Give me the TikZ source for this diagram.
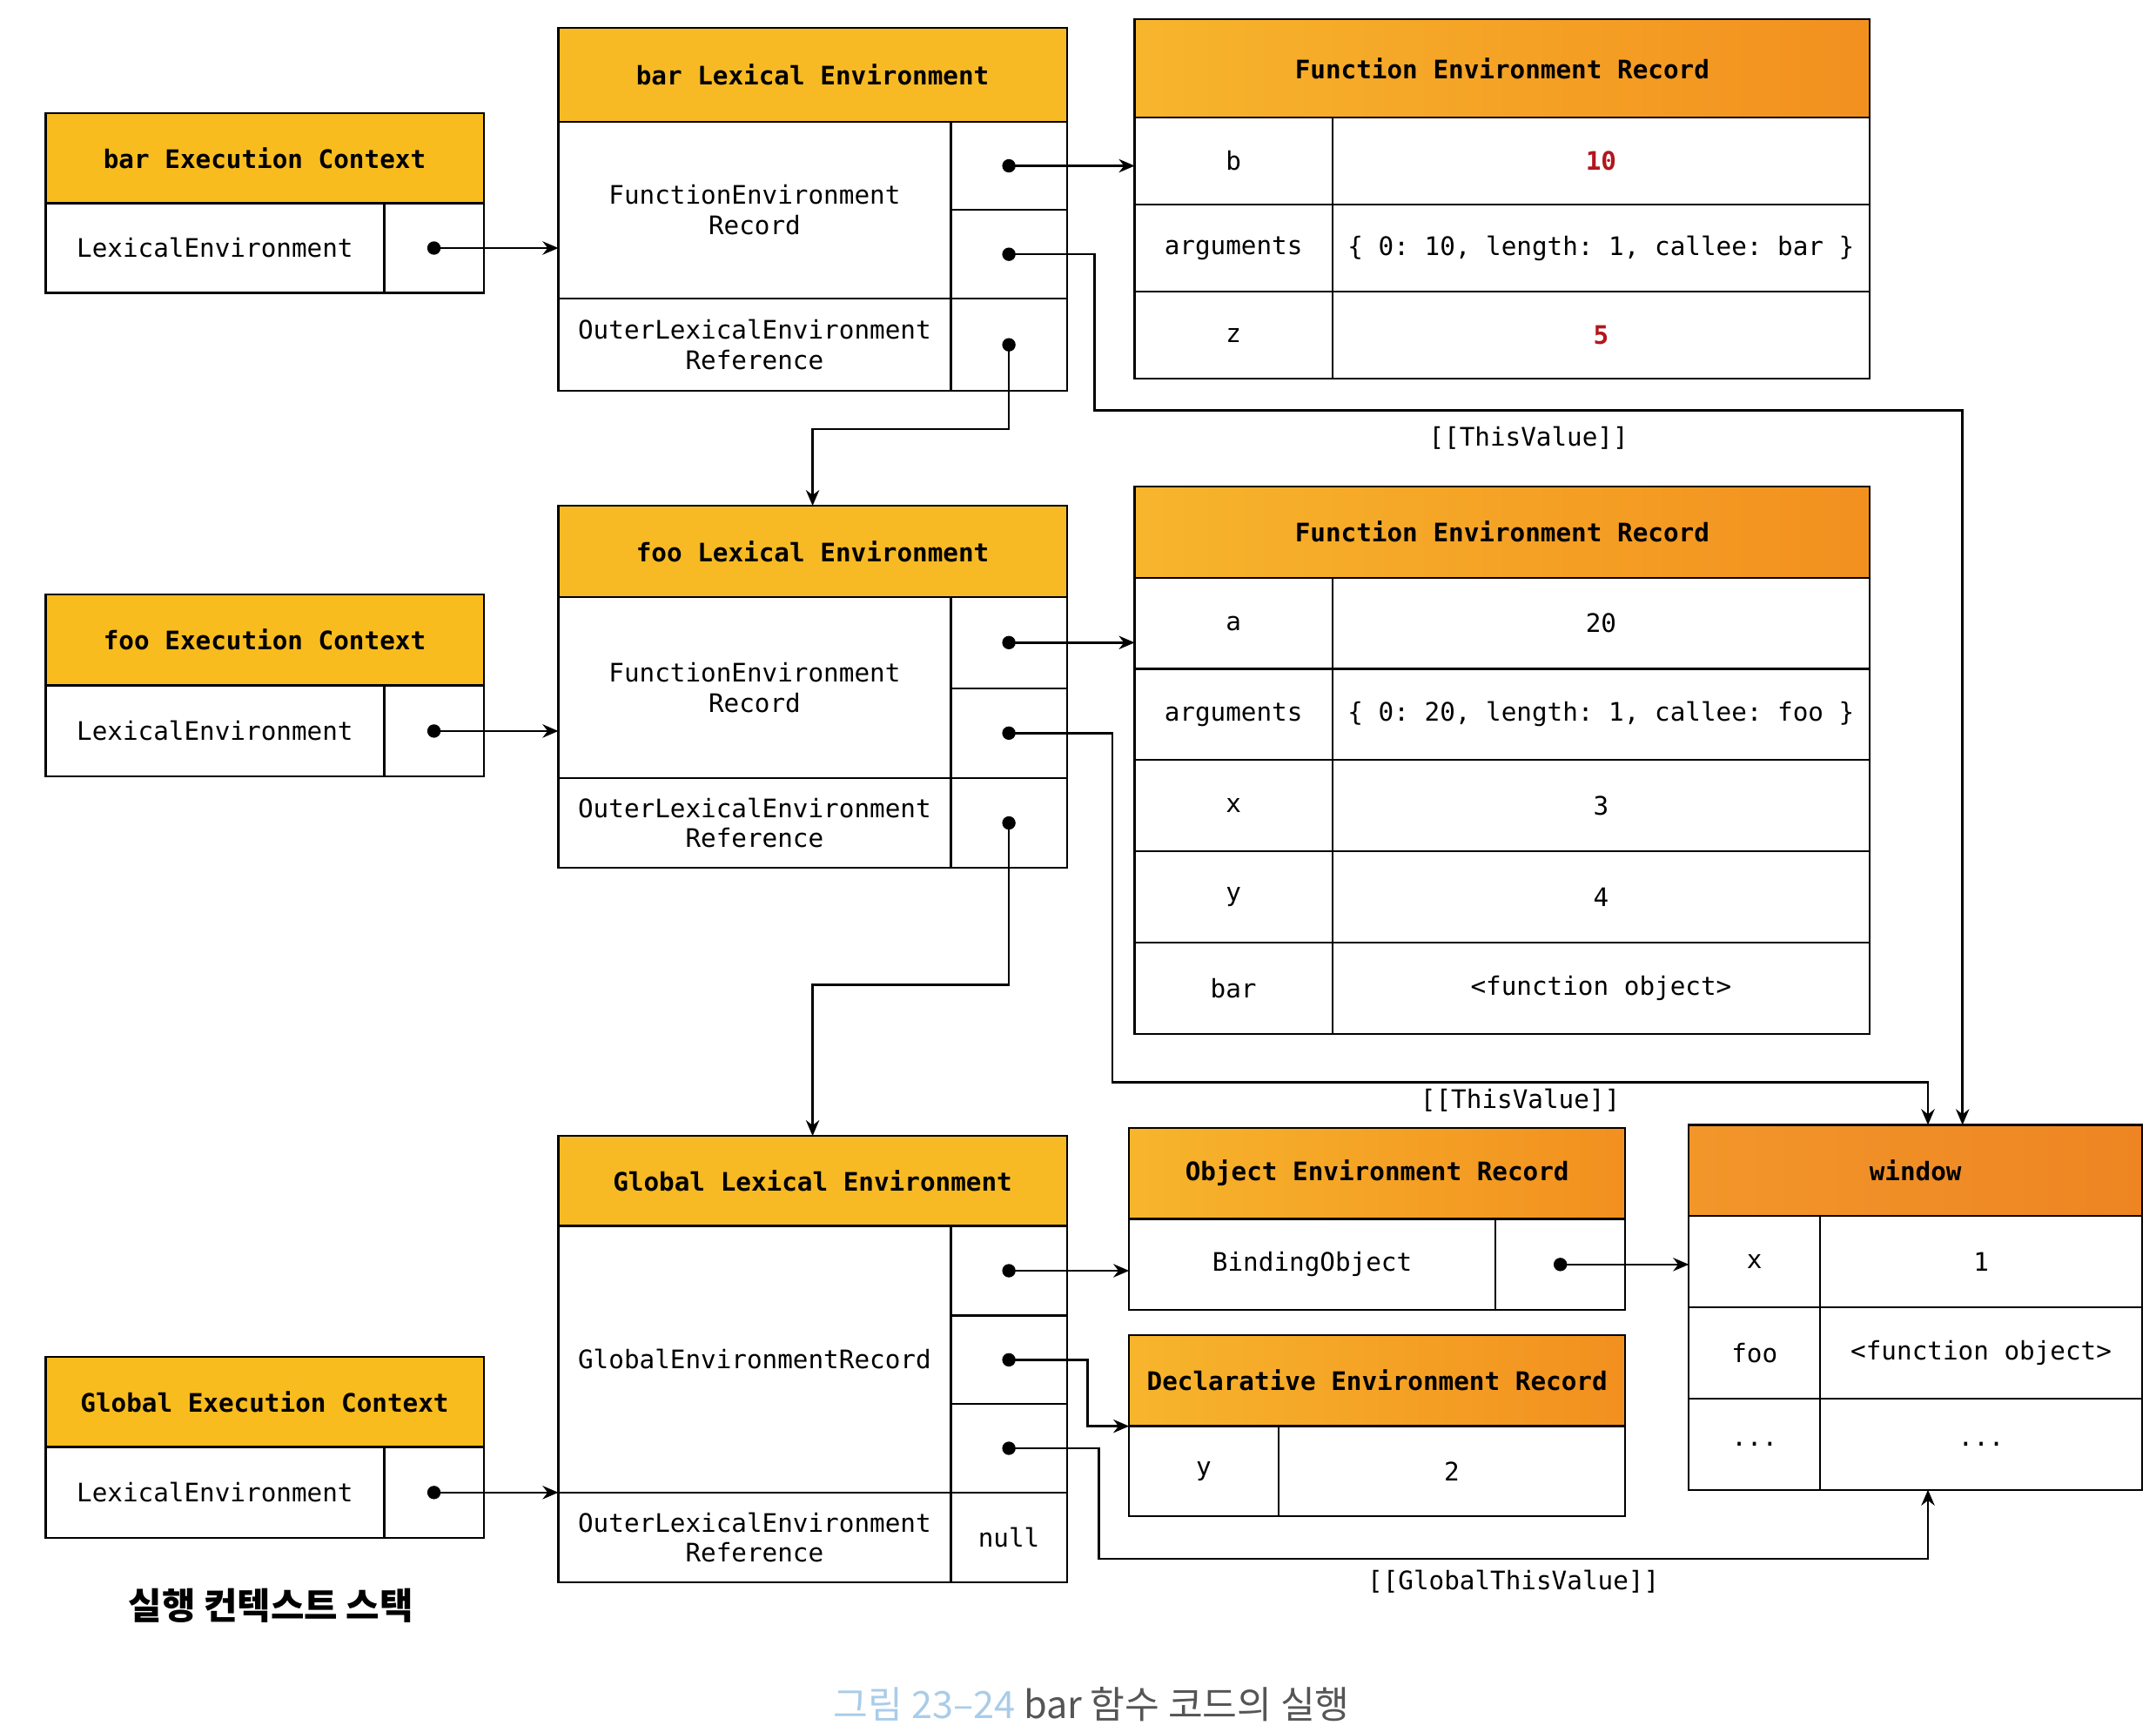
\documentclass[tikz,border=0pt]{standalone}
\usepackage{fontspec}
\setmonofont{DejaVu Sans Mono}
\newfontfamily\krfont{Noto Sans CJK KR}
\usetikzlibrary{arrows.meta,positioning}
\definecolor{ecyellow}{HTML}{F8BC1F}
\definecolor{leyellow}{HTML}{F7BA24}
\definecolor{recleft}{HTML}{F7B52C}
\definecolor{recright}{HTML}{F2901F}
\definecolor{winleft}{HTML}{F2962A}
\definecolor{winright}{HTML}{EE8522}
\definecolor{valred}{HTML}{B3161E}
\definecolor{capblue}{HTML}{A9CCE8}
\definecolor{capgray}{HTML}{555555}

\begin{document}
\begin{tikzpicture}[x=0.02cm,y=-0.02cm,line width=0.8pt,>={Stealth[length=6.5pt,width=5.5pt]}]
    \tikzstyle{cell}=[draw,anchor=north west,inner sep=0pt,outer sep=0pt,align=center,font=\ttfamily\fontsize{10.5}{12.5}\selectfont]
    \tikzstyle{head}=[cell,font=\ttfamily\bfseries\fontsize{10.5}{12.5}\selectfont]
    \tikzstyle{ptr}=[{Circle[length=5.5pt]}->,shorten <=-2.75pt,line width=0.9pt]
    \tikzstyle{lbl}=[font=\ttfamily\fontsize{10.5}{12.5}\selectfont]

    \path[use as bounding box,fill=white] (0,0) rectangle (1560,1253);

    % execution context stack
    \node[head,fill=ecyellow,minimum width=6.34cm,minimum height=1.3cm]  (barECh) at (33,82)   {bar Execution Context};
    \node[cell,minimum width=4.9cm,minimum height=1.3cm]                 (barECn) at (33,147)  {LexicalEnvironment};
    \node[cell,minimum width=1.44cm,minimum height=1.3cm]                (barECp) at (278,147) {};

    \node[head,fill=ecyellow,minimum width=6.34cm,minimum height=1.32cm] (fooECh) at (33,430)  {foo Execution Context};
    \node[cell,minimum width=4.9cm,minimum height=1.32cm]                (fooECn) at (33,496)  {LexicalEnvironment};
    \node[cell,minimum width=1.44cm,minimum height=1.32cm]               (fooECp) at (278,496) {};

    \node[head,fill=ecyellow,minimum width=6.34cm,minimum height=1.3cm]  (GECh) at (33,982)    {Global Execution Context};
    \node[cell,minimum width=4.9cm,minimum height=1.32cm]                (GECn) at (33,1047)   {LexicalEnvironment};
    \node[cell,minimum width=1.44cm,minimum height=1.32cm]               (GECp) at (278,1047)  {};

    \node[font=\krfont\bfseries\fontsize{15}{17}\selectfont] (stack) at (196,1162) {실행 컨텍스트 스택};

    % lexical environments
    \node[head,fill=leyellow,minimum width=7.36cm,minimum height=1.36cm] (barLEh) at (404,20)   {bar Lexical Environment};
    \node[cell,minimum width=5.68cm,minimum height=2.56cm]               (barLEf) at (404,88)   {FunctionEnvironment\\Record};
    \node[cell,minimum width=1.68cm,minimum height=1.28cm]               (barLEp1) at (688,88)  {};
    \node[cell,minimum width=1.68cm,minimum height=1.28cm]               (barLEp2) at (688,152) {};
    \node[cell,minimum width=5.68cm,minimum height=1.34cm]               (barLEo) at (404,216)  {OuterLexicalEnvironment\\Reference};
    \node[cell,minimum width=1.68cm,minimum height=1.34cm]               (barLEq) at (688,216)  {};

    \node[head,fill=leyellow,minimum width=7.36cm,minimum height=1.32cm] (fooLEh) at (404,366)  {foo Lexical Environment};
    \node[cell,minimum width=5.68cm,minimum height=2.62cm]               (fooLEf) at (404,432)  {FunctionEnvironment\\Record};
    \node[cell,minimum width=1.68cm,minimum height=1.32cm]               (fooLEp1) at (688,432) {};
    \node[cell,minimum width=1.68cm,minimum height=1.3cm]                (fooLEp2) at (688,498) {};
    \node[cell,minimum width=5.68cm,minimum height=1.3cm]                (fooLEo) at (404,563)  {OuterLexicalEnvironment\\Reference};
    \node[cell,minimum width=1.68cm,minimum height=1.3cm]                (fooLEq) at (688,563)  {};

    \node[head,fill=leyellow,minimum width=7.36cm,minimum height=1.3cm]  (GLEh) at (404,822)    {Global Lexical Environment};
    \node[cell,minimum width=5.68cm,minimum height=3.86cm]               (GLEg) at (404,887)    {GlobalEnvironmentRecord};
    \node[cell,minimum width=1.68cm,minimum height=1.3cm]                (GLEp1) at (688,887)   {};
    \node[cell,minimum width=1.68cm,minimum height=1.28cm]               (GLEp2) at (688,952)   {};
    \node[cell,minimum width=1.68cm,minimum height=1.28cm]               (GLEp3) at (688,1016)  {};
    \node[cell,minimum width=5.68cm,minimum height=1.3cm]                (GLEo) at (404,1080)   {OuterLexicalEnvironment\\Reference};
    \node[cell,minimum width=1.68cm,minimum height=1.3cm]                (GLEq) at (688,1080)   {null};

    % bar function environment record
    \node[head,left color=recleft,right color=recright,minimum width=10.64cm,minimum height=1.42cm] (barFh) at (821,14) {Function Environment Record};
    \node[cell,minimum width=2.86cm,minimum height=1.26cm] (barFb)  at (821,85)  {b};
    \node[cell,minimum width=7.78cm,minimum height=1.26cm] (barFbv) at (964,85)  {\textbf{\color{valred}10}};
    \node[cell,minimum width=2.86cm,minimum height=1.26cm] (barFa)  at (821,148) {arguments};
    \node[cell,minimum width=7.78cm,minimum height=1.26cm] (barFav) at (964,148) {\{ 0: 10, length: 1, callee: bar \}};
    \node[cell,minimum width=2.86cm,minimum height=1.26cm] (barFz)  at (821,211) {z};
    \node[cell,minimum width=7.78cm,minimum height=1.26cm] (barFzv) at (964,211) {\textbf{\color{valred}5}};

    % foo function environment record
    \node[head,left color=recleft,right color=recright,minimum width=10.64cm,minimum height=1.32cm] (fooFh) at (821,352) {Function Environment Record};
    \node[cell,minimum width=2.86cm,minimum height=1.32cm] (fooFa)  at (821,418) {a};
    \node[cell,minimum width=7.78cm,minimum height=1.32cm] (fooFav) at (964,418) {20};
    \node[cell,minimum width=2.86cm,minimum height=1.32cm] (fooFg)  at (821,484) {arguments};
    \node[cell,minimum width=7.78cm,minimum height=1.32cm] (fooFgv) at (964,484) {\{ 0: 20, length: 1, callee: foo \}};
    \node[cell,minimum width=2.86cm,minimum height=1.32cm] (fooFx)  at (821,550) {x};
    \node[cell,minimum width=7.78cm,minimum height=1.32cm] (fooFxv) at (964,550) {3};
    \node[cell,minimum width=2.86cm,minimum height=1.32cm] (fooFy)  at (821,616) {y};
    \node[cell,minimum width=7.78cm,minimum height=1.32cm] (fooFyv) at (964,616) {4};
    \node[cell,minimum width=2.86cm,minimum height=1.32cm] (fooFb)  at (821,682) {bar};
    \node[cell,minimum width=7.78cm,minimum height=1.32cm] (fooFbv) at (964,682) {<function object>};

    % global records and window
    \node[head,left color=recleft,right color=recright,minimum width=7.18cm,minimum height=1.32cm] (objh) at (817,816) {Object Environment Record};
    \node[cell,minimum width=5.3cm,minimum height=1.32cm]  (objn) at (817,882)   {BindingObject};
    \node[cell,minimum width=1.88cm,minimum height=1.32cm] (objp) at (1082,882)  {};

    \node[head,left color=recleft,right color=recright,minimum width=7.18cm,minimum height=1.32cm] (declh) at (817,966) {Declarative Environment Record};
    \node[cell,minimum width=2.16cm,minimum height=1.3cm]  (declk) at (817,1032) {y};
    \node[cell,minimum width=5.02cm,minimum height=1.3cm]  (declv) at (925,1032) {2};

    \node[head,left color=winleft,right color=winright,minimum width=6.56cm,minimum height=1.32cm] (winh) at (1222,814) {window};
    \node[cell,minimum width=1.9cm,minimum height=1.32cm]  (winxk) at (1222,880)  {x};
    \node[cell,minimum width=4.66cm,minimum height=1.32cm] (winxv) at (1317,880)  {1};
    \node[cell,minimum width=1.9cm,minimum height=1.32cm]  (winfk) at (1222,946)  {foo};
    \node[cell,minimum width=4.66cm,minimum height=1.32cm] (winfv) at (1317,946)  {<function object>};
    \node[cell,minimum width=1.9cm,minimum height=1.32cm]  (windk) at (1222,1012) {...};
    \node[cell,minimum width=4.66cm,minimum height=1.32cm] (windv) at (1317,1012) {...};

    \coordinate (tv1) at (1420,297);
    \coordinate (tv2) at (1395,783);
    \coordinate (tv3) at (1395,1128);

    % pointers
    \draw[ptr] (barECp.center) -- (barECp.center -| barLEf.west);
    \draw[ptr] (fooECp.center) -- (fooECp.center -| fooLEf.west);
    \draw[ptr] (GECp.center) -- (GECp.center -| GLEg.west);

    \draw[ptr] (barLEp1.center) -- (barLEp1.center -| barFb.west);
    \draw[ptr] (barLEp2.center) -- ++(62,0) |- node[lbl,pos=0.75,below=3pt] {[[ThisValue]]} (tv1) -- (tv1 |- winh.north);
    \draw[ptr] (barLEq.center) -- ++(0,61) -| (fooLEh.north);

    \draw[ptr] (fooLEp1.center) -- (fooLEp1.center -| fooFa.west);
    \draw[ptr] (fooLEp2.center) -- ++(75,0) |- node[lbl,pos=0.75,below=-1pt] {[[ThisValue]]} (tv2) -- (tv2 |- winh.north);
    \draw[ptr] (fooLEq.center) -- ++(0,117) -| (GLEh.north);

    \draw[ptr] (GLEp1.center) -- (GLEp1.center -| objn.west);
    \draw[ptr] (GLEp2.center) -- ++(57,0) |- (declk.north west);
    \draw[ptr] (GLEp3.center) -- ++(65,0) |- node[lbl,pos=0.75,below=1pt] {[[GlobalThisValue]]} (tv3) -- (tv3 |- windv.south);
    \draw[ptr] (objp.center) -- (objp.center -| winxk.west);

    \node[font=\krfont\fontsize{15.5}{18}\selectfont,text=capgray] (cap) at (790,1233) {\textcolor{capblue}{그림 23–24} bar 함수 코드의 실행};
\end{tikzpicture}
\end{document}
